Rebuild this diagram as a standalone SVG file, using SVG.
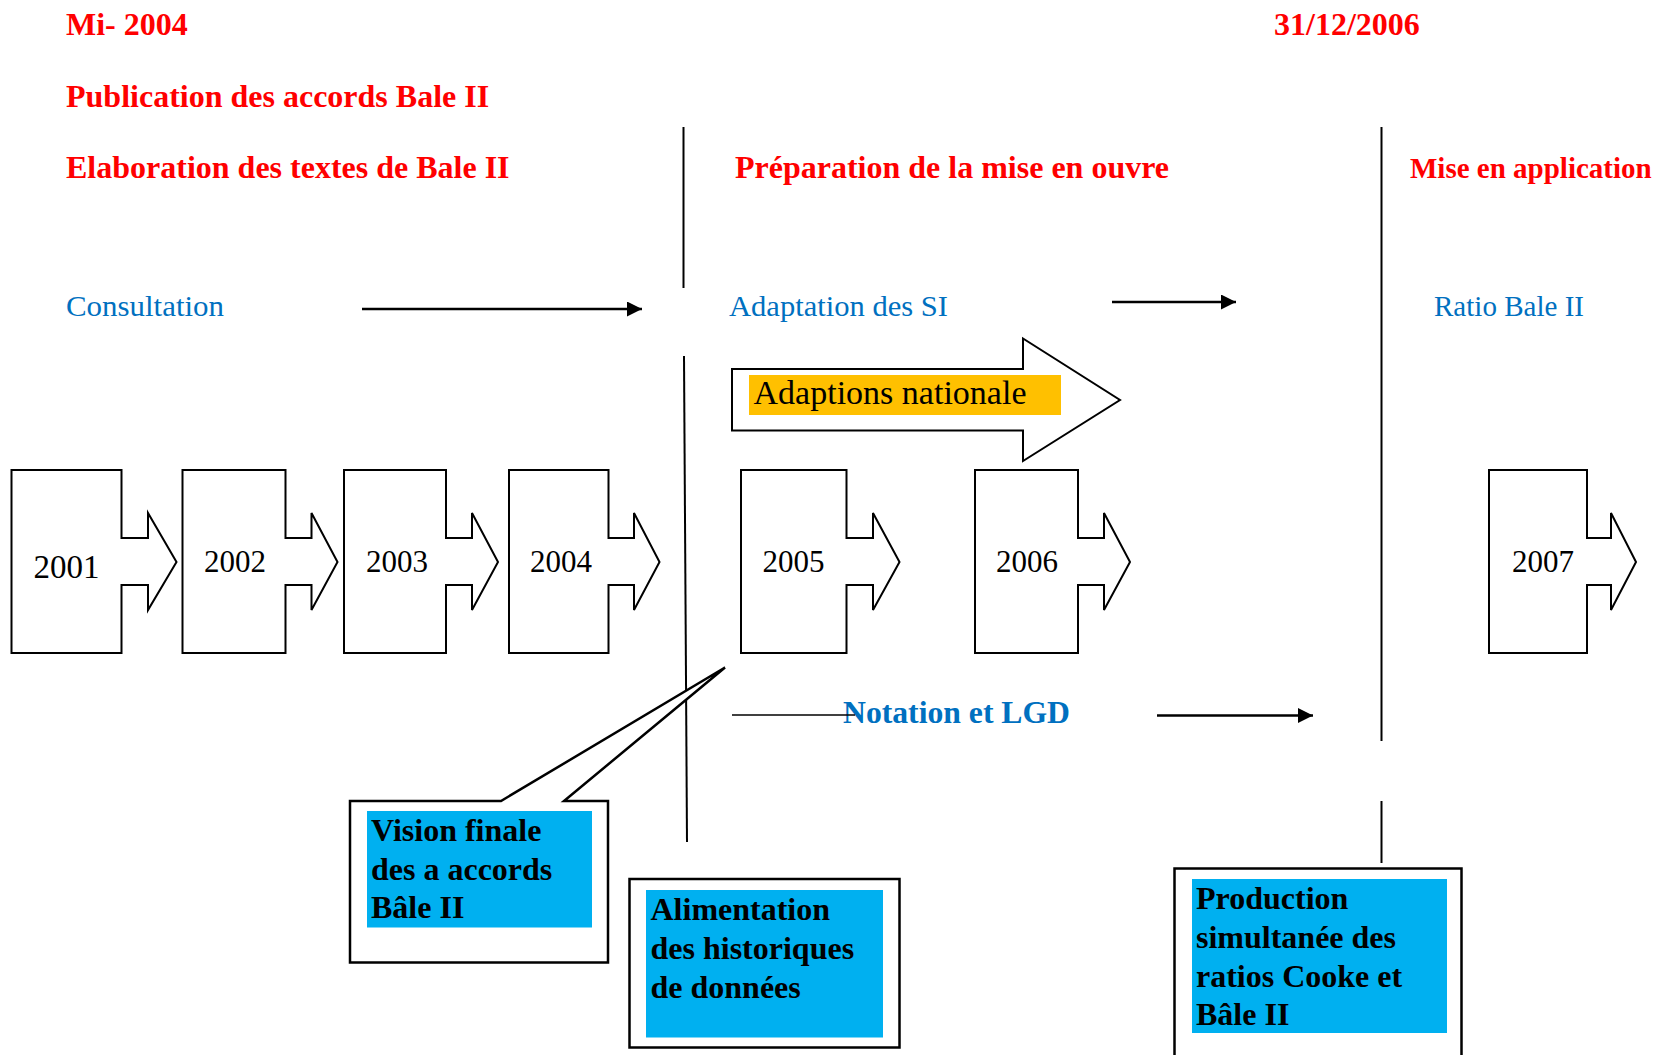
<svg xmlns="http://www.w3.org/2000/svg" width="1658" height="1055" viewBox="0 0 1658 1055">
<style>
.red{font-family:"Liberation Serif","Times New Roman",serif;font-weight:bold;font-size:32px;fill:#FF0000}
.blue{font-family:"Liberation Serif","Times New Roman",serif;font-size:30px;fill:#0070C0}
.blueb{font-family:"Liberation Serif","Times New Roman",serif;font-weight:bold;font-size:32px;fill:#0070C0}
.year{font-family:"Liberation Serif","Times New Roman",serif;font-size:31px;fill:#000}
.box{font-family:"Liberation Serif","Times New Roman",serif;font-weight:bold;font-size:32px;fill:#000}
.shape{fill:#fff;stroke:#000;stroke-width:2}
.frame{fill:#fff;stroke:#000;stroke-width:2.5}
.cyan{fill:#00B0F0}
.div{stroke:#000;stroke-width:2;fill:none}
.arr{stroke:#000;stroke-width:2.6;fill:none}
</style>
<defs>
<marker id="ah" markerUnits="userSpaceOnUse" markerWidth="16" markerHeight="16" refX="15" refY="7.5" orient="auto" viewBox="0 0 16 16">
<path d="M0,0 L15,7.5 L0,15 Z" fill="#000"/>
</marker>
</defs>
<rect width="1658" height="1055" fill="#fff"/>

<g id="titles">
<text class="red" x="66" y="35">Mi- 2004</text>
<text class="red" x="1274" y="35">31/12/2006</text>
<text class="red" x="66" y="107">Publication des accords Bale II</text>
<text class="red" x="66" y="178">Elaboration des textes de Bale II</text>
<text class="red" x="735" y="178">Préparation de la mise en ouvre</text>
<text class="red" x="1410" y="178" style="font-size:29px">Mise en application</text>
</g>

<g id="phases">
<text class="blue" x="66" y="316" textLength="158" lengthAdjust="spacingAndGlyphs">Consultation</text>
<text class="blue" x="729" y="316" textLength="219" lengthAdjust="spacingAndGlyphs">Adaptation des SI</text>
<text class="blue" x="1434" y="316" textLength="150" lengthAdjust="spacingAndGlyphs">Ratio Bale II</text>
<text class="blueb" x="843" y="723" textLength="227" lengthAdjust="spacingAndGlyphs">Notation et LGD</text>
</g>

<g id="connectors">
<line class="div" x1="683.5" y1="127" x2="683.5" y2="288"/>
<line class="div" x1="684" y1="356" x2="687" y2="842"/>
<line class="div" x1="1381.5" y1="127" x2="1381.5" y2="741"/>
<line class="div" x1="1381.5" y1="801" x2="1381.5" y2="863"/>
<line class="arr" x1="362" y1="309" x2="642" y2="309" marker-end="url(#ah)"/>
<line class="arr" x1="1112" y1="302" x2="1236" y2="302" marker-end="url(#ah)"/>
<line class="arr" x1="1157" y1="715.5" x2="1313" y2="715.5" marker-end="url(#ah)"/>
<line x1="732" y1="715" x2="855" y2="715" stroke="#000" stroke-width="1.6"/>
</g>

<g id="adaptions-nationale">
<path class="shape" d="M732,369 H1023 V338.5 L1120,400 L1023,461 V430.5 H732 Z"/>
<rect x="749" y="375" width="312" height="40" fill="#FFC000"/>
<text class="year" x="753.5" y="404" style="font-size:33px" textLength="273" lengthAdjust="spacingAndGlyphs">Adaptions nationale</text>
</g>

<g id="y2001">
<path class="shape" d="M11.5,470 H121.5 V538 H148 V513 L176.5,562 L148,610 V585 H121.5 V653 H11.5 Z"/>
<text class="year" x="33.5" y="578" style="font-size:33px">2001</text>
</g>
<g id="y2002">
<path class="shape" d="M182.5,470 H285.5 V538 H311.5 V513 L337.5,562 L311.5,610 V585 H285.5 V653 H182.5 Z"/>
<text class="year" x="204" y="572">2002</text>
</g>
<g id="y2003">
<path class="shape" d="M344,470 H446 V538 H472 V513 L498,562 L472,610 V585 H446 V653 H344 Z"/>
<text class="year" x="366" y="572">2003</text>
</g>
<g id="y2004">
<path class="shape" d="M509,470 H608.5 V538 H634 V513 L659.5,562 L634,610 V585 H608.5 V653 H509 Z"/>
<text class="year" x="530" y="572">2004</text>
</g>
<g id="y2005">
<path class="shape" d="M741,470 H846.5 V538 H873 V513 L899.5,562 L873,610 V585 H846.5 V653 H741 Z"/>
<text class="year" x="762.5" y="572">2005</text>
</g>
<g id="y2006">
<path class="shape" d="M975,470 H1078 V538 H1104 V513 L1130,562 L1104,610 V585 H1078 V653 H975 Z"/>
<text class="year" x="996" y="572">2006</text>
</g>
<g id="y2007">
<path class="shape" d="M1489,470 H1587 V538 H1611 V513 L1636,562 L1611,610 V585 H1587 V653 H1489 Z"/>
<text class="year" x="1512" y="572">2007</text>
</g>

<g id="vision-finale">
<path class="frame" d="M350,801 H501 L725,667.5 L564,801 H608 V962.5 H350 Z"/>
<rect class="cyan" x="367" y="811" width="225" height="116.5"/>
<text class="box" x="371" y="841">Vision finale</text>
<text class="box" x="371" y="879.5">des a accords</text>
<text class="box" x="371" y="918">Bâle II</text>
</g>

<g id="alimentation">
<rect class="frame" x="629.5" y="879" width="270" height="168.5"/>
<rect class="cyan" x="646" y="890" width="237" height="147.5"/>
<text class="box" x="650.5" y="919.5">Alimentation</text>
<text class="box" x="650.5" y="958.5">des historiques</text>
<text class="box" x="650.5" y="997.5">de données</text>
</g>

<g id="production">
<rect class="frame" x="1174.5" y="868.5" width="287" height="200"/>
<rect class="cyan" x="1192" y="879" width="255" height="154"/>
<text class="box" x="1196" y="908.5">Production</text>
<text class="box" x="1196" y="947.5">simultanée des</text>
<text class="box" x="1196" y="986.5">ratios Cooke et</text>
<text class="box" x="1196" y="1025">Bâle II</text>
</g>
</svg>
